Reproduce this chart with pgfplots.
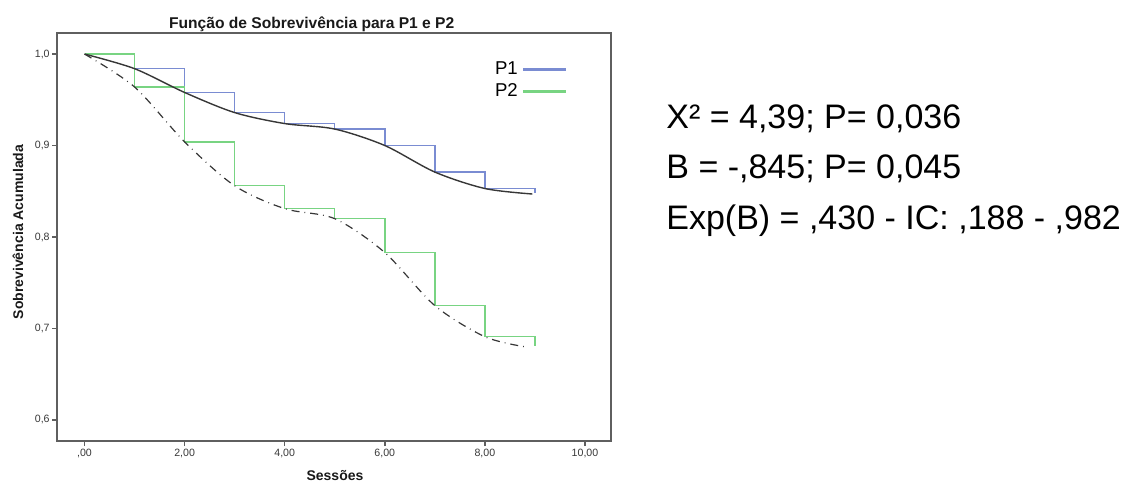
\documentclass[border=0pt]{standalone}
\usepackage{fontspec}
\setmainfont{Liberation Sans}
\usepackage{pgfplots}
\pgfplotsset{compat=1.18}

\definecolor{pone}{RGB}{122,140,210}
\definecolor{ptwo}{RGB}{120,212,130}
\definecolor{axgray}{RGB}{95,95,95}
\definecolor{fitgray}{RGB}{55,55,55}

\begin{document}
\begin{tikzpicture}[x=1pt,y=1pt]
\useasboundingbox (0,0) rectangle (565,241.5);

\begin{axis}[
  at={(28.5pt,21pt)}, anchor=south west,
  scale only axis, width=277pt, height=204pt,
  xmin=-0.55, xmax=10.52, ymin=0.577, ymax=1.023,
  axis line style={axgray, line width=0.75pt},
  tick align=outside, xtick pos=bottom, ytick pos=left,
  major tick length=2.5pt,
  tick style={axgray, line width=0.75pt},
  xtick={0,2,4,6,8,10},
  xticklabels={\mbox{,00},\mbox{2,00},\mbox{4,00},\mbox{6,00},\mbox{8,00},\mbox{10,00}},
  ytick={0.6,0.7,0.8,0.9,1.0},
  yticklabels={\mbox{0,6},\mbox{0,7},\mbox{0,8},\mbox{0,9},\mbox{1,0}},
  ticklabel style={font=\fontsize{5.3}{6}\selectfont, text=black!78},
  yticklabel style={inner sep=1pt},
  xticklabel style={inner sep=1.5pt},
  legend plot pos=right,
  legend style={draw=none, fill=none, at={(axis description cs:0.922,0.94)},
    anchor=north east, font=\fontsize{9.3}{11.7}\selectfont,
    cells={anchor=east}, row sep=-1.2pt, inner sep=0pt},
  legend image code/.code={\draw[line width=1.3pt] (0pt,0pt) -- (21.5pt,0pt);},
]
% estimativas Kaplan-Meier (degraus)
\addplot[pone, line width=0.7pt, const plot] coordinates {
  (0,1.000) (1,0.984) (2,0.958) (3,0.936) (4,0.924)
  (5,0.918) (6,0.900) (7,0.871) (8,0.853) (9,0.848)
};
\addplot[ptwo, line width=0.7pt, const plot] coordinates {
  (0,1.000) (1,0.964) (2,0.904) (3,0.856) (4,0.831)
  (5,0.820) (6,0.783) (7,0.725) (8,0.691) (9,0.681)
};
% curvas ajustadas
\addplot[fitgray, line width=0.7pt, smooth, forget plot] coordinates {
  (0,1.000) (1,0.984) (2,0.958) (3,0.936) (4,0.924)
  (5,0.918) (6,0.900) (7,0.871) (8,0.853) (8.95,0.847)
};
\addplot[fitgray, line width=0.6pt, smooth, forget plot,
  dash pattern=on 4pt off 2.5pt on 0.4pt off 2.5pt] coordinates {
  (0,1.000) (1,0.964) (2,0.904) (3,0.856) (4,0.831)
  (5,0.820) (6,0.783) (7,0.725) (8,0.691) (8.8,0.680)
};
\legend{P1,P2}
\end{axis}

\node[font=\bfseries\fontsize{7.8}{9}\selectfont, anchor=base west, text=black!90]
  at (81,227.3) {Função de Sobrevivência para P1 e P2};
\node[font=\bfseries\fontsize{7}{8}\selectfont, rotate=90, text=black!90]
  at (9,125.5) {Sobrevivência Acumulada};
\node[font=\bfseries\fontsize{7}{8}\selectfont, anchor=base, text=black!90]
  at (167.5,1.2) {Sessões};

\begin{scope}[font=\fontsize{17}{20}\selectfont]
\node[anchor=base west, inner sep=0pt] at (333,177.5) {X² = 4,39; P= 0,036};
\node[anchor=base west, inner sep=0pt] at (333,152.5) {B = -,845; P= 0,045};
\node[anchor=base west, inner sep=0pt] at (333,127) {Exp(B) = ,430 - IC: ,188 - ,982};
\end{scope}
\end{tikzpicture}
\end{document}
